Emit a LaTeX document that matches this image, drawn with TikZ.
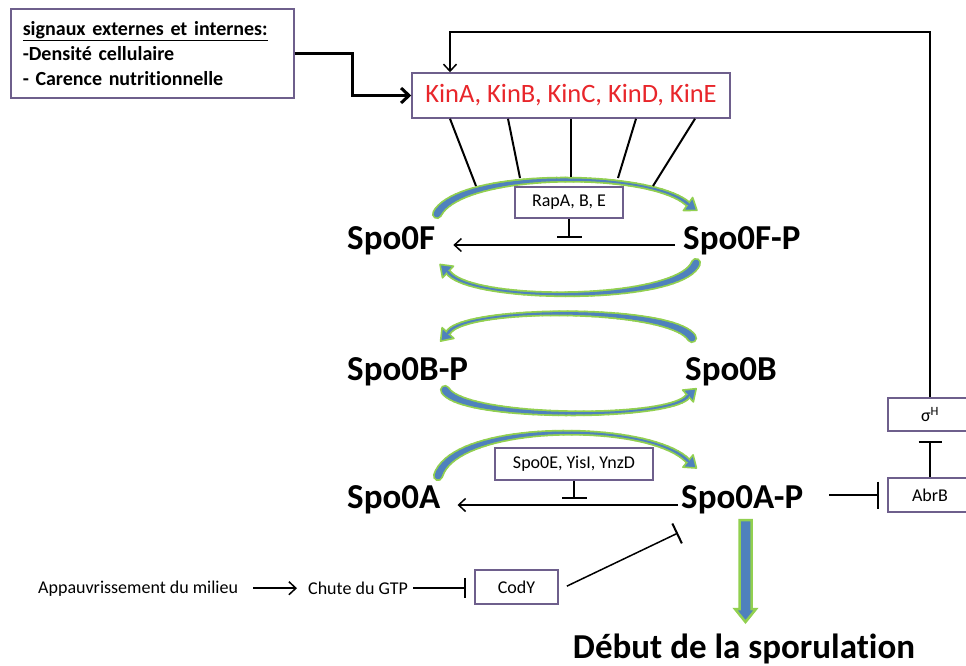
\documentclass[tikz,border=0pt]{standalone}
\usepackage{fontspec}
\setmainfont{Carlito}[Ligatures={NoCommon}]
\usetikzlibrary{arrows.meta,calc}
\definecolor{agreen}{HTML}{92D050}
\definecolor{ablue}{HTML}{4F81BD}
\definecolor{boxc}{HTML}{6E5F8C}
\definecolor{kred}{HTML}{E8262B}
\newcommand\taparrow[5]{%
  \path #2 .. controls #3 and #4 .. #5
    \foreach \i [evaluate=\i as \t using \i/40] in {0,...,40} {coordinate[pos=\t] (#1\i)};
  \foreach \i [evaluate=\i as \j using int(\i+1), evaluate=\i as \w using {0.8+6*(1-\i/40)^2+2*(\i/40)^4}] in {0,...,39}
    {\draw[agreen, line width=\w pt+3.5pt, line cap=round] (#1\i) -- (#1\j);}
  \draw[draw=agreen, fill=ablue, line width=1.6pt, line join=round]
    ($(#140)!-11pt!(#138)$) -- ($(#140)!8pt!90:(#138)$) -- ($(#140)!8pt!-90:(#138)$) -- cycle;
  \foreach \i [evaluate=\i as \j using int(\i+1), evaluate=\i as \w using {0.8+6*(1-\i/40)^2+2*(\i/40)^4}] in {0,...,39}
    {\draw[ablue, line width=\w pt, line cap=round] (#1\i) -- (#1\j);}
}
\tikzset{
  big/.style={font=\fontsize{35}{40}\selectfont\bfseries, inner sep=0pt},
  small/.style={font=\fontsize{18}{21}\selectfont, inner sep=0pt},
  box/.style={draw=boxc, line width=1.5pt, fill=white, inner sep=0pt},
  arr/.style={line width=1.5pt, -{Straight Barb[length=7pt,width=13pt]}},
  thickarr/.style={line width=3pt, -{Straight Barb[length=8pt,width=15pt]}},
  inh/.style={line width=1.5pt, -{Bar[width=#1,line width=2pt]}},
  inh/.default=24pt,
  kline/.style={line width=2pt},
}
\begin{document}
\begin{tikzpicture}[x=1pt,y=-1pt]
\useasboundingbox (0,0) rectangle (966,665);
\fill[white] (0,0) rectangle (966,665);
\clip (0,0) rectangle (966,665);

% green/blue curved arrows
\taparrow{fa}{(437,214)}{(460,170)}{(650,170)}{(688,204)}
\taparrow{fb}{(696,263)}{(680,303)}{(470,303)}{(448,272)}
\taparrow{ba}{(692,338)}{(672,306)}{(462,306)}{(448,333)}
\taparrow{bb}{(445,390)}{(462,420)}{(672,420)}{(688,396)}
\taparrow{aa}{(438,476)}{(455,421)}{(650,421)}{(688,461)}

% signal box
\node[box, anchor=north west, minimum width=283pt, minimum height=89pt,
      text width=259pt, inner xsep=12pt, align=left,
      font=\fontsize{20}{25}\selectfont\bfseries] (sig) at (10,8)
  {\underline{signaux externes et internes:}\\-Densité cellulaire\\- Carence nutritionnelle};

% kinases
\node[box, minimum width=318pt, minimum height=45pt, text=kred,
      font=\fontsize{26.5}{30}\selectfont] (kin) at (571,95.5) {KinA, KinB, KinC, KinD, KinE};

\coordinate (sigbend) at (352,0);
\draw[thickarr] (sig.east) -| (sigbend |- kin.west) -- (kin.west);

% kinase lines
\coordinate (a1) at (476,186);
\coordinate (a2) at (520,178);
\coordinate (a3) at (571,177);
\coordinate (a4) at (618,178);
\coordinate (a5) at (653,186);
\draw[kline] ($(kin.south)+(-121,0)$) -- (a1);
\draw[kline] ($(kin.south)+(-63,0)$) -- (a2);
\draw[kline] (kin.south) -- (a3);
\draw[kline] ($(kin.south)+(65,0)$) -- (a4);
\draw[kline] ($(kin.south)+(124,0)$) -- (a5);

% labels
\node[big, anchor=base west] (s0f) at (347,249) {Spo0F};
\node[big, anchor=base west] (s0fp) at (683,249) {Spo0F-P};
\node[big, anchor=base west] (s0bp) at (347,380) {Spo0B-P};
\node[big, anchor=base west] (s0b) at (685,380) {Spo0B};
\node[big, anchor=base west] (s0a) at (347,508) {Spo0A};
\node[big, anchor=base west] (s0ap) at (681,508) {Spo0A-P};
\node[big, anchor=base] (deb) at (744,658) {Début de la sporulation};

% phosphatases
\node[box, small, minimum width=108pt, minimum height=31pt] (rap) at (569,202.5) {RapA, B, E};
\coordinate (rapT) at ($(rap.south)+(0,19)$);
\draw[inh=25pt] (rap.south) -- (rapT);
\draw[arr] ($(s0fp.base west)+(-8,-4)$) -- ($(s0f.base east)+(18,-4)$);

\node[box, small, minimum width=158pt, minimum height=32pt] (s0e) at (574,464) {Spo0E, YisI, YnzD};
\coordinate (s0eT) at ($(s0e.south)+(0,18)$);
\draw[inh=25pt] (s0e.south) -- (s0eT);
\draw[arr] ($(s0ap.base west)+(-3,-3)$) -- ($(s0a.base east)+(17,-3)$);

% right column
\node[box, small, minimum width=84pt, minimum height=34pt] (abrb) at (930,495) {AbrB};
\node[box, small, minimum width=84pt, minimum height=33pt] (sigH) at (930,414.5) {σ\textsuperscript{H}};
\draw[inh=27pt, shorten <=26pt, shorten >=8pt] (abrb.west -| s0ap.east) -- (abrb.west);
\draw[inh=23pt, shorten >=9pt] (abrb.north) -- (sigH.south);
\coordinate (fbc) at (450,32);
\draw[arr] (sigH.north) |- (fbc) -- (fbc |- kin.north);

% bottom left chain
\node[small, anchor=base west] (app) at (38,593) {Appauvrissement du milieu};
\node[small, anchor=base west] (chute) at (308,594) {Chute du GTP};
\node[box, small, minimum width=83pt, minimum height=34pt] (cody) at (516.5,587) {CodY};
\draw[arr, shorten <=15pt, shorten >=11pt] (app.east) -- (app.east -| chute.west);
\draw[inh=20pt, shorten <=5pt, shorten >=8pt] (chute.east) -- (chute.east -| cody.west);
\coordinate (codyT) at ($(s0ap.base west)+(-3,25)$);
\draw[inh=22pt, shorten <=9pt] ($(cody.east)+(0,3)$) -- (codyT);

% big down arrow
\draw[draw=agreen, fill=ablue, line width=2.5pt, line join=miter]
  (739.5,520) -- (751.5,520) -- (751.5,609) -- (756,609) -- (745.5,622)
  -- (735,609) -- (739.5,609) -- cycle;
\end{tikzpicture}
\end{document}
